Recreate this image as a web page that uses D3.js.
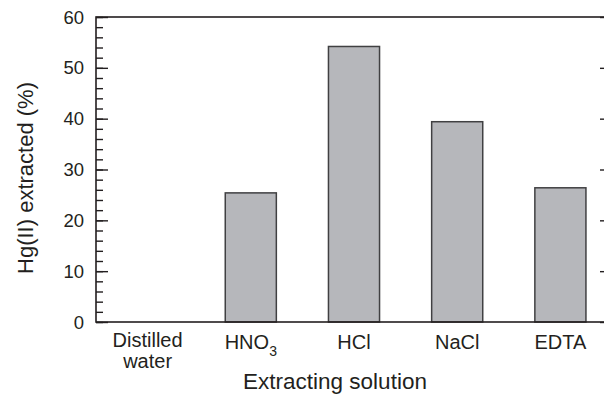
<!DOCTYPE html>
<html>
<head>
<meta charset="utf-8">
<script src="https://cdn.jsdelivr.net/npm/d3@7/dist/d3.min.js"></script>
<style>
  html, body { margin: 0; padding: 0; background: #fff; }
  svg { display: block; font-family: "Liberation Sans", Arial, sans-serif; }
</style>
</head>
<body>
<svg id="chart" width="604" height="395"></svg>
<script>
// Extracting solutions and the share of Hg(II) each one recovered
const categories = ["Distilled water", "HNO3", "HCl", "NaCl", "EDTA"];
const extracted = [0, 25.4, 54.2, 39.4, 26.4];
const yTicks = [0, 10, 20, 30, 40, 50, 60];
const yMinorTicks = d3.range(0, 61, 2);

const svg = d3.select("#chart");
const plotLeft = 96, plotRight = 612, plotTop = 17, plotBottom = 322;

const x = d3.scaleBand().domain(categories).range([plotLeft, plotRight]).paddingInner(0.505).paddingOuter(0.2525);
const y = d3.scaleLinear().domain([0, 60]).range([plotBottom, plotTop]);

const ink = "#231f20";

// bars
svg.append("g").selectAll("rect")
  .data(categories.map((c, i) => ({ c, v: extracted[i] })))
  .join("rect")
  .attr("x", d => x(d.c))
  .attr("y", d => y(d.v))
  .attr("width", x.bandwidth())
  .attr("height", d => y(0) - y(d.v))
  .attr("fill", "#b6b7bb")
  .attr("stroke", "#404042")
  .attr("stroke-width", 1.5);

// frame
svg.append("rect")
  .attr("x", plotLeft).attr("y", plotTop)
  .attr("width", plotRight - plotLeft).attr("height", plotBottom - plotTop)
  .attr("fill", "none").attr("stroke", ink).attr("stroke-width", 1.6);

// ticks pointing inward on both vertical edges: minor every 2, major every 10
function ticks(axisFn, xPos, values, size) {
  svg.append("g").attr("transform", `translate(${xPos},0)`)
    .call(axisFn(y).tickValues(values).tickSize(size).tickFormat(""))
    .call(g => g.select(".domain").remove())
    .selectAll("line").attr("stroke", ink).attr("stroke-width", 1.4);
}
ticks(d3.axisRight, plotLeft, yMinorTicks, 7);
ticks(d3.axisRight, plotLeft, yTicks, 12);
ticks(d3.axisLeft, plotRight, yMinorTicks, 7);
ticks(d3.axisLeft, plotRight, yTicks, 12);

// y tick labels
svg.append("g").selectAll("text")
  .data(yTicks)
  .join("text")
  .attr("x", plotLeft - 12)
  .attr("y", d => y(d))
  .attr("dy", "0.36em")
  .attr("text-anchor", "end")
  .attr("font-size", 18.5)
  .attr("fill", ink)
  .text(d => d);

// category labels
const catG = svg.append("g").attr("font-size", 20).attr("fill", ink).attr("text-anchor", "middle");
categories.forEach(c => {
  const cx = x(c) + x.bandwidth() / 2;
  const t = catG.append("text").attr("x", cx).attr("y", 349);
  if (c === "Distilled water") {
    t.attr("y", 347);
    t.append("tspan").attr("x", cx).text("Distilled");
    t.append("tspan").attr("x", cx).attr("dy", 21).text("water");
  } else if (c === "HNO3") {
    t.append("tspan").text("HNO");
    t.append("tspan").attr("font-size", 14).attr("dy", 7).text("3");
  } else {
    t.text(c);
  }
});

// axis titles
svg.append("text")
  .attr("x", 335)
  .attr("y", 389)
  .attr("text-anchor", "middle")
  .attr("font-size", 22.5)
  .attr("fill", ink)
  .text("Extracting solution");

svg.append("text")
  .attr("transform", "translate(33,178) rotate(-90)")
  .attr("text-anchor", "middle")
  .attr("font-size", 22)
  .attr("fill", ink)
  .text("Hg(II) extracted (%)");
</script>
</body>
</html>
